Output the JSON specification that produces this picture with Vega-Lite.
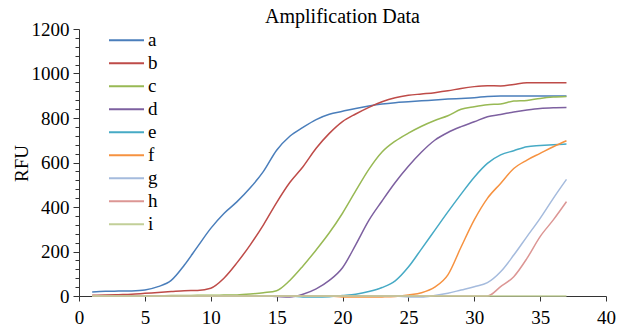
{
  "$schema": "https://vega.github.io/schema/vega-lite/v6.json",
  "width": 527,
  "height": 267,
  "autosize": "none",
  "padding": {"left": 79, "top": 29, "right": 14, "bottom": 35},
  "background": "white",
  "title": {"text": "Amplification Data", "font": "Liberation Serif", "fontSize": 20, "fontWeight": "normal", "color": "black", "anchor": "middle", "offset": -7},
  "config": {"view": {"stroke": null}},
  "data": {"values": [
    {"cycle":1,"series":"a","rfu":18},{"cycle":2,"series":"a","rfu":21},{"cycle":3,"series":"a","rfu":22},{"cycle":4,"series":"a","rfu":23},{"cycle":5,"series":"a","rfu":27},{"cycle":6,"series":"a","rfu":42},{"cycle":7,"series":"a","rfu":70},{"cycle":8,"series":"a","rfu":139},{"cycle":9,"series":"a","rfu":222},{"cycle":10,"series":"a","rfu":304},{"cycle":11,"series":"a","rfu":371},{"cycle":12,"series":"a","rfu":424},{"cycle":13,"series":"a","rfu":486},{"cycle":14,"series":"a","rfu":560},{"cycle":15,"series":"a","rfu":655},{"cycle":16,"series":"a","rfu":718},{"cycle":17,"series":"a","rfu":758},{"cycle":18,"series":"a","rfu":793},{"cycle":19,"series":"a","rfu":817},{"cycle":20,"series":"a","rfu":830},{"cycle":21,"series":"a","rfu":843},{"cycle":22,"series":"a","rfu":854},{"cycle":23,"series":"a","rfu":863},{"cycle":24,"series":"a","rfu":869},{"cycle":25,"series":"a","rfu":873},{"cycle":26,"series":"a","rfu":877},{"cycle":27,"series":"a","rfu":881},{"cycle":28,"series":"a","rfu":885},{"cycle":29,"series":"a","rfu":888},{"cycle":30,"series":"a","rfu":891},{"cycle":31,"series":"a","rfu":897},{"cycle":32,"series":"a","rfu":899},{"cycle":33,"series":"a","rfu":899},{"cycle":34,"series":"a","rfu":899},{"cycle":35,"series":"a","rfu":899},{"cycle":36,"series":"a","rfu":899},{"cycle":37,"series":"a","rfu":899},
    {"cycle":1,"series":"b","rfu":3},{"cycle":2,"series":"b","rfu":4},{"cycle":3,"series":"b","rfu":6},{"cycle":4,"series":"b","rfu":8},{"cycle":5,"series":"b","rfu":12},{"cycle":6,"series":"b","rfu":16},{"cycle":7,"series":"b","rfu":20},{"cycle":8,"series":"b","rfu":24},{"cycle":9,"series":"b","rfu":25},{"cycle":10,"series":"b","rfu":35},{"cycle":11,"series":"b","rfu":80},{"cycle":12,"series":"b","rfu":150},{"cycle":13,"series":"b","rfu":230},{"cycle":14,"series":"b","rfu":320},{"cycle":15,"series":"b","rfu":420},{"cycle":16,"series":"b","rfu":510},{"cycle":17,"series":"b","rfu":581},{"cycle":18,"series":"b","rfu":664},{"cycle":19,"series":"b","rfu":731},{"cycle":20,"series":"b","rfu":784},{"cycle":21,"series":"b","rfu":818},{"cycle":22,"series":"b","rfu":848},{"cycle":23,"series":"b","rfu":873},{"cycle":24,"series":"b","rfu":891},{"cycle":25,"series":"b","rfu":902},{"cycle":26,"series":"b","rfu":908},{"cycle":27,"series":"b","rfu":914},{"cycle":28,"series":"b","rfu":922},{"cycle":29,"series":"b","rfu":933},{"cycle":30,"series":"b","rfu":941},{"cycle":31,"series":"b","rfu":945},{"cycle":32,"series":"b","rfu":944},{"cycle":33,"series":"b","rfu":951},{"cycle":34,"series":"b","rfu":958},{"cycle":35,"series":"b","rfu":958},{"cycle":36,"series":"b","rfu":958},{"cycle":37,"series":"b","rfu":958},
    {"cycle":1,"series":"c","rfu":0},{"cycle":2,"series":"c","rfu":0},{"cycle":3,"series":"c","rfu":0},{"cycle":4,"series":"c","rfu":0},{"cycle":5,"series":"c","rfu":1},{"cycle":6,"series":"c","rfu":1},{"cycle":7,"series":"c","rfu":2},{"cycle":8,"series":"c","rfu":2},{"cycle":9,"series":"c","rfu":3},{"cycle":10,"series":"c","rfu":3},{"cycle":11,"series":"c","rfu":4},{"cycle":12,"series":"c","rfu":5},{"cycle":13,"series":"c","rfu":9},{"cycle":14,"series":"c","rfu":15},{"cycle":15,"series":"c","rfu":24},{"cycle":16,"series":"c","rfu":70},{"cycle":17,"series":"c","rfu":135},{"cycle":18,"series":"c","rfu":207},{"cycle":19,"series":"c","rfu":284},{"cycle":20,"series":"c","rfu":372},{"cycle":21,"series":"c","rfu":472},{"cycle":22,"series":"c","rfu":569},{"cycle":23,"series":"c","rfu":647},{"cycle":24,"series":"c","rfu":696},{"cycle":25,"series":"c","rfu":732},{"cycle":26,"series":"c","rfu":763},{"cycle":27,"series":"c","rfu":789},{"cycle":28,"series":"c","rfu":810},{"cycle":29,"series":"c","rfu":839},{"cycle":30,"series":"c","rfu":851},{"cycle":31,"series":"c","rfu":860},{"cycle":32,"series":"c","rfu":863},{"cycle":33,"series":"c","rfu":876},{"cycle":34,"series":"c","rfu":879},{"cycle":35,"series":"c","rfu":888},{"cycle":36,"series":"c","rfu":894},{"cycle":37,"series":"c","rfu":897},
    {"cycle":1,"series":"d","rfu":0},{"cycle":2,"series":"d","rfu":0},{"cycle":3,"series":"d","rfu":0},{"cycle":4,"series":"d","rfu":0},{"cycle":5,"series":"d","rfu":0},{"cycle":6,"series":"d","rfu":0},{"cycle":7,"series":"d","rfu":0},{"cycle":8,"series":"d","rfu":0},{"cycle":9,"series":"d","rfu":0},{"cycle":10,"series":"d","rfu":0},{"cycle":11,"series":"d","rfu":0},{"cycle":12,"series":"d","rfu":0},{"cycle":13,"series":"d","rfu":0},{"cycle":14,"series":"d","rfu":0},{"cycle":15,"series":"d","rfu":-2},{"cycle":16,"series":"d","rfu":-4},{"cycle":17,"series":"d","rfu":8},{"cycle":18,"series":"d","rfu":32},{"cycle":19,"series":"d","rfu":70},{"cycle":20,"series":"d","rfu":127},{"cycle":21,"series":"d","rfu":230},{"cycle":22,"series":"d","rfu":340},{"cycle":23,"series":"d","rfu":427},{"cycle":24,"series":"d","rfu":510},{"cycle":25,"series":"d","rfu":583},{"cycle":26,"series":"d","rfu":647},{"cycle":27,"series":"d","rfu":700},{"cycle":28,"series":"d","rfu":735},{"cycle":29,"series":"d","rfu":761},{"cycle":30,"series":"d","rfu":783},{"cycle":31,"series":"d","rfu":806},{"cycle":32,"series":"d","rfu":816},{"cycle":33,"series":"d","rfu":827},{"cycle":34,"series":"d","rfu":836},{"cycle":35,"series":"d","rfu":843},{"cycle":36,"series":"d","rfu":846},{"cycle":37,"series":"d","rfu":847},
    {"cycle":1,"series":"e","rfu":0},{"cycle":2,"series":"e","rfu":0},{"cycle":3,"series":"e","rfu":0},{"cycle":4,"series":"e","rfu":0},{"cycle":5,"series":"e","rfu":0},{"cycle":6,"series":"e","rfu":0},{"cycle":7,"series":"e","rfu":0},{"cycle":8,"series":"e","rfu":0},{"cycle":9,"series":"e","rfu":0},{"cycle":10,"series":"e","rfu":0},{"cycle":11,"series":"e","rfu":0},{"cycle":12,"series":"e","rfu":0},{"cycle":13,"series":"e","rfu":0},{"cycle":14,"series":"e","rfu":0},{"cycle":15,"series":"e","rfu":0},{"cycle":16,"series":"e","rfu":0},{"cycle":17,"series":"e","rfu":-4},{"cycle":18,"series":"e","rfu":-5},{"cycle":19,"series":"e","rfu":-3},{"cycle":20,"series":"e","rfu":2},{"cycle":21,"series":"e","rfu":8},{"cycle":22,"series":"e","rfu":20},{"cycle":23,"series":"e","rfu":38},{"cycle":24,"series":"e","rfu":68},{"cycle":25,"series":"e","rfu":130},{"cycle":26,"series":"e","rfu":212},{"cycle":27,"series":"e","rfu":295},{"cycle":28,"series":"e","rfu":378},{"cycle":29,"series":"e","rfu":458},{"cycle":30,"series":"e","rfu":534},{"cycle":31,"series":"e","rfu":596},{"cycle":32,"series":"e","rfu":634},{"cycle":33,"series":"e","rfu":653},{"cycle":34,"series":"e","rfu":671},{"cycle":35,"series":"e","rfu":676},{"cycle":36,"series":"e","rfu":680},{"cycle":37,"series":"e","rfu":683},
    {"cycle":1,"series":"f","rfu":0},{"cycle":2,"series":"f","rfu":0},{"cycle":3,"series":"f","rfu":0},{"cycle":4,"series":"f","rfu":0},{"cycle":5,"series":"f","rfu":0},{"cycle":6,"series":"f","rfu":0},{"cycle":7,"series":"f","rfu":0},{"cycle":8,"series":"f","rfu":0},{"cycle":9,"series":"f","rfu":0},{"cycle":10,"series":"f","rfu":0},{"cycle":11,"series":"f","rfu":0},{"cycle":12,"series":"f","rfu":0},{"cycle":13,"series":"f","rfu":0},{"cycle":14,"series":"f","rfu":0},{"cycle":15,"series":"f","rfu":0},{"cycle":16,"series":"f","rfu":0},{"cycle":17,"series":"f","rfu":0},{"cycle":18,"series":"f","rfu":0},{"cycle":19,"series":"f","rfu":0},{"cycle":20,"series":"f","rfu":-4},{"cycle":21,"series":"f","rfu":-5},{"cycle":22,"series":"f","rfu":-5},{"cycle":23,"series":"f","rfu":-4},{"cycle":24,"series":"f","rfu":-2},{"cycle":25,"series":"f","rfu":5},{"cycle":26,"series":"f","rfu":15},{"cycle":27,"series":"f","rfu":40},{"cycle":28,"series":"f","rfu":95},{"cycle":29,"series":"f","rfu":220},{"cycle":30,"series":"f","rfu":342},{"cycle":31,"series":"f","rfu":439},{"cycle":32,"series":"f","rfu":506},{"cycle":33,"series":"f","rfu":573},{"cycle":34,"series":"f","rfu":611},{"cycle":35,"series":"f","rfu":641},{"cycle":36,"series":"f","rfu":671},{"cycle":37,"series":"f","rfu":698},
    {"cycle":1,"series":"g","rfu":0},{"cycle":2,"series":"g","rfu":0},{"cycle":3,"series":"g","rfu":0},{"cycle":4,"series":"g","rfu":0},{"cycle":5,"series":"g","rfu":0},{"cycle":6,"series":"g","rfu":0},{"cycle":7,"series":"g","rfu":0},{"cycle":8,"series":"g","rfu":0},{"cycle":9,"series":"g","rfu":0},{"cycle":10,"series":"g","rfu":0},{"cycle":11,"series":"g","rfu":0},{"cycle":12,"series":"g","rfu":0},{"cycle":13,"series":"g","rfu":0},{"cycle":14,"series":"g","rfu":0},{"cycle":15,"series":"g","rfu":0},{"cycle":16,"series":"g","rfu":0},{"cycle":17,"series":"g","rfu":0},{"cycle":18,"series":"g","rfu":0},{"cycle":19,"series":"g","rfu":0},{"cycle":20,"series":"g","rfu":0},{"cycle":21,"series":"g","rfu":0},{"cycle":22,"series":"g","rfu":0},{"cycle":23,"series":"g","rfu":0},{"cycle":24,"series":"g","rfu":0},{"cycle":25,"series":"g","rfu":-4},{"cycle":26,"series":"g","rfu":-5},{"cycle":27,"series":"g","rfu":2},{"cycle":28,"series":"g","rfu":12},{"cycle":29,"series":"g","rfu":27},{"cycle":30,"series":"g","rfu":42},{"cycle":31,"series":"g","rfu":60},{"cycle":32,"series":"g","rfu":109},{"cycle":33,"series":"g","rfu":184},{"cycle":34,"series":"g","rfu":267},{"cycle":35,"series":"g","rfu":349},{"cycle":36,"series":"g","rfu":439},{"cycle":37,"series":"g","rfu":524},
    {"cycle":1,"series":"h","rfu":0},{"cycle":2,"series":"h","rfu":0},{"cycle":3,"series":"h","rfu":0},{"cycle":4,"series":"h","rfu":0},{"cycle":5,"series":"h","rfu":0},{"cycle":6,"series":"h","rfu":0},{"cycle":7,"series":"h","rfu":0},{"cycle":8,"series":"h","rfu":0},{"cycle":9,"series":"h","rfu":0},{"cycle":10,"series":"h","rfu":0},{"cycle":11,"series":"h","rfu":0},{"cycle":12,"series":"h","rfu":0},{"cycle":13,"series":"h","rfu":0},{"cycle":14,"series":"h","rfu":0},{"cycle":15,"series":"h","rfu":0},{"cycle":16,"series":"h","rfu":0},{"cycle":17,"series":"h","rfu":0},{"cycle":18,"series":"h","rfu":0},{"cycle":19,"series":"h","rfu":0},{"cycle":20,"series":"h","rfu":0},{"cycle":21,"series":"h","rfu":0},{"cycle":22,"series":"h","rfu":0},{"cycle":23,"series":"h","rfu":0},{"cycle":24,"series":"h","rfu":0},{"cycle":25,"series":"h","rfu":0},{"cycle":26,"series":"h","rfu":0},{"cycle":27,"series":"h","rfu":0},{"cycle":28,"series":"h","rfu":0},{"cycle":29,"series":"h","rfu":0},{"cycle":30,"series":"h","rfu":0},{"cycle":31,"series":"h","rfu":0},{"cycle":32,"series":"h","rfu":42},{"cycle":33,"series":"h","rfu":87},{"cycle":34,"series":"h","rfu":169},{"cycle":35,"series":"h","rfu":267},{"cycle":36,"series":"h","rfu":342},{"cycle":37,"series":"h","rfu":424},
    {"cycle":1,"series":"i","rfu":0},{"cycle":2,"series":"i","rfu":0},{"cycle":3,"series":"i","rfu":0},{"cycle":4,"series":"i","rfu":0},{"cycle":5,"series":"i","rfu":0},{"cycle":6,"series":"i","rfu":0},{"cycle":7,"series":"i","rfu":0},{"cycle":8,"series":"i","rfu":0},{"cycle":9,"series":"i","rfu":0},{"cycle":10,"series":"i","rfu":0},{"cycle":11,"series":"i","rfu":0},{"cycle":12,"series":"i","rfu":0},{"cycle":13,"series":"i","rfu":0},{"cycle":14,"series":"i","rfu":0},{"cycle":15,"series":"i","rfu":0},{"cycle":16,"series":"i","rfu":0},{"cycle":17,"series":"i","rfu":0},{"cycle":18,"series":"i","rfu":0},{"cycle":19,"series":"i","rfu":0},{"cycle":20,"series":"i","rfu":0},{"cycle":21,"series":"i","rfu":0},{"cycle":22,"series":"i","rfu":0},{"cycle":23,"series":"i","rfu":0},{"cycle":24,"series":"i","rfu":0},{"cycle":25,"series":"i","rfu":0},{"cycle":26,"series":"i","rfu":0},{"cycle":27,"series":"i","rfu":0},{"cycle":28,"series":"i","rfu":0},{"cycle":29,"series":"i","rfu":0},{"cycle":30,"series":"i","rfu":0},{"cycle":31,"series":"i","rfu":0},{"cycle":32,"series":"i","rfu":0},{"cycle":33,"series":"i","rfu":0},{"cycle":34,"series":"i","rfu":0},{"cycle":35,"series":"i","rfu":0},{"cycle":36,"series":"i","rfu":0},{"cycle":37,"series":"i","rfu":0}
  ]},
  "mark": {"type": "line", "interpolate": "monotone", "strokeWidth": 1.5, "clip": false},
  "encoding": {
    "x": {"field": "cycle", "type": "quantitative",
      "scale": {"domain": [0, 40], "nice": false, "zero": false},
      "axis": {"title": null, "values": [0,5,10,15,20,25,30,35,40], "grid": false,
        "labelFont": "Liberation Serif", "labelFontSize": 19, "labelColor": "black",
        "tickSize": 5, "tickColor": "#333", "domainColor": "#333", "labelPadding": 7, "labelFlush": false}},
    "y": {"field": "rfu", "type": "quantitative",
      "scale": {"domain": [0, 1200], "nice": false},
      "axis": {"title": "RFU", "values": [0,40,80,120,160,200,240,280,320,360,400,440,480,520,560,600,640,680,720,760,800,840,880,920,960,1000,1040,1080,1120,1160,1200],
        "labelExpr": "datum.value % 200 === 0 ? datum.label : ''", "labelOverlap": false, "grid": false,
        "labelFont": "Liberation Serif", "labelFontSize": 19, "labelColor": "black", "labelPadding": 4,
        "tickSize": {"condition": {"test": "datum.value % 200 === 0", "value": 6}, "value": 4},
        "tickColor": "#333", "domainColor": "#333", "format": "d",
        "titleFont": "Liberation Serif", "titleFontSize": 19, "titleFontWeight": "normal", "titleColor": "black",
        "titleX": -58, "titleY": 134, "titleAngle": 270, "titleAlign": "center", "titleBaseline": "middle"}},
    "color": {"field": "series", "type": "nominal",
      "scale": {"domain": ["a","b","c","d","e","f","g","h","i"],
        "range": ["#4A7EBB","#BE4B48","#98B954","#7D60A0","#46AAC5","#F69240","#A5BBDD","#DC9694","#C2CF98"]},
      "legend": {"title": null, "orient": "none", "legendX": 29, "legendY": 0, "padding": 0,
        "symbolType": "stroke", "symbolSize": 1225, "symbolStrokeWidth": 2, "clipHeight": 22.6, "rowPadding": 0,
        "labelFont": "Liberation Serif", "labelFontSize": 19, "labelColor": "black", "labelOffset": 3}}
  }
}
